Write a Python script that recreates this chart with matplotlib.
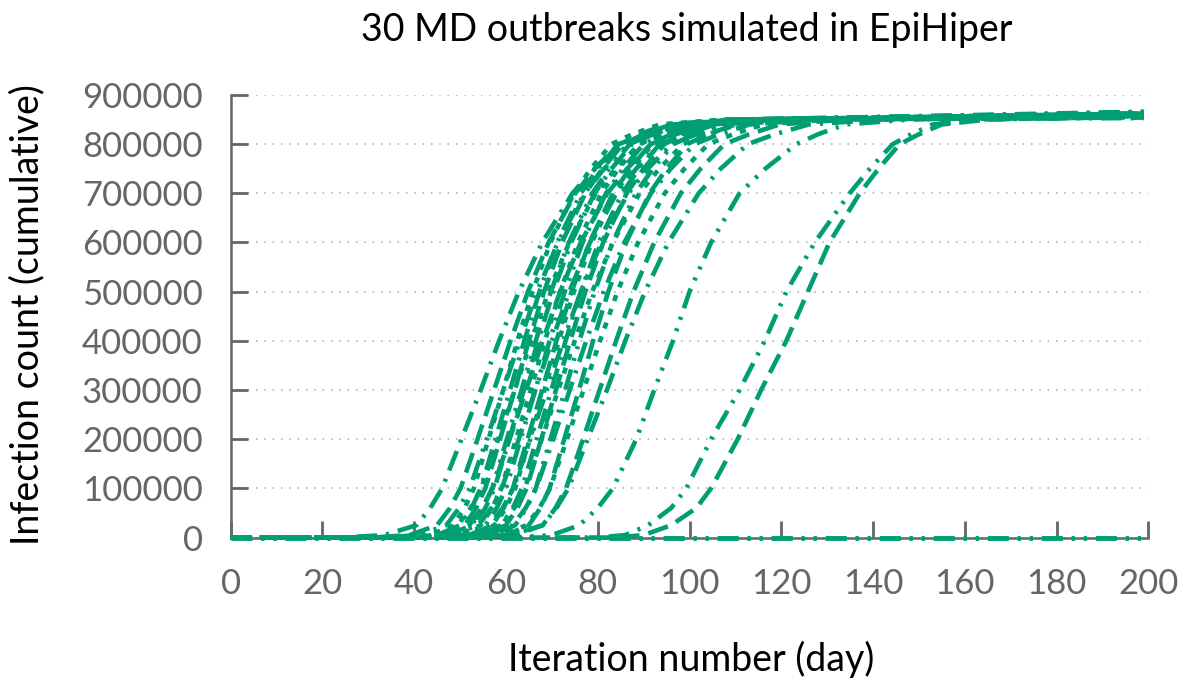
import matplotlib
matplotlib.use("Agg")
import matplotlib.pyplot as plt

plt.rcParams['font.family'] = ['Lato', 'DejaVu Sans']
plt.rcParams['lines.scale_dashes'] = False

# infection levels; each curve lists the day it reaches each level
LEVELS = [0, 5000, 25000, 60000, 100000, 200000, 300000, 400000,
          500000, 600000, 700000, 750000, 800000, 820000, 840000, 850000]
LAST_DAY = 199

CURVE_DAYS = [
    [24.5, 33.5, 40.5, 43.5, 46.1, 50.3, 54.5, 58.5, 62.8, 67.9, 74.5, 79.3, 85.2, 91.1, 98.5, 114.5],
    [31, 39, 45, 47.8, 50.1, 53.8, 57.4, 61, 64.8, 69.3, 75.1, 79.4, 84.6, 90, 96.6, 111],
    [36.5, 43.5, 48.5, 51, 53, 56.2, 59.4, 62.5, 65.8, 69.7, 74.8, 78.5, 83, 87.5, 93.5, 107.5],
    [33, 41, 47, 49.8, 52.1, 55.8, 59.4, 63, 66.8, 71.3, 77.1, 81.4, 86.6, 92, 98.6, 113],
    [38, 45, 50, 52.5, 54.5, 57.7, 60.9, 64, 67.3, 71.2, 76.3, 80, 84.5, 89, 95, 109],
    [39, 46, 51, 53.5, 55.5, 58.7, 61.9, 65, 68.3, 72.2, 77.3, 81, 85.5, 90, 96, 110],
    [35.5, 43.5, 49.5, 52.3, 54.6, 58.3, 61.9, 65.5, 69.3, 73.8, 79.6, 83.9, 89.1, 94.5, 101.1, 115.5],
    [40.5, 47.5, 52.5, 55, 57, 60.2, 63.4, 66.5, 69.8, 73.7, 78.8, 82.5, 87, 91.5, 97.5, 111.5],
    [41, 48, 53, 55.5, 57.5, 60.7, 63.9, 67, 70.3, 74.2, 79.3, 83, 87.5, 92, 98, 112],
    [38, 46, 52, 54.8, 57.1, 60.8, 64.4, 68, 71.8, 76.3, 82.1, 86.4, 91.6, 97, 103.6, 118],
    [42.5, 49.5, 54.5, 57, 59, 62.2, 65.4, 68.5, 71.8, 75.7, 80.8, 84.5, 89, 93.5, 99.5, 113.5],
    [43.5, 50.5, 55.5, 58, 60, 63.2, 66.4, 69.5, 72.8, 76.7, 81.8, 85.5, 90, 94.5, 100.5, 114.5],
    [40, 48, 54, 56.8, 59.1, 62.8, 66.4, 70, 73.8, 78.3, 84.1, 88.4, 93.6, 99, 105.6, 120],
    [45, 52, 57, 59.5, 61.5, 64.7, 67.9, 71, 74.3, 78.2, 83.3, 87, 91.5, 96, 102, 116],
    [45.5, 52.5, 57.5, 60, 62, 65.2, 68.4, 71.5, 74.8, 78.7, 83.8, 87.5, 92, 96.5, 102.5, 116.5],
    [42.5, 50.5, 56.5, 59.3, 61.6, 65.3, 68.9, 72.5, 76.3, 80.8, 86.6, 90.9, 96.1, 101.5, 108.1, 122.5],
    [47, 54, 59, 61.5, 63.5, 66.7, 69.9, 73, 76.3, 80.2, 85.3, 89, 93.5, 98, 104, 118],
    [48, 55, 60, 62.5, 64.5, 67.7, 70.9, 74, 77.3, 81.2, 86.3, 90, 94.5, 99, 105, 119],
    [45, 53, 59, 61.8, 64.1, 67.8, 71.4, 75, 78.8, 83.3, 89.1, 93.4, 98.6, 104, 110.6, 125],
    [50, 57, 62, 64.5, 66.5, 69.7, 72.9, 76, 79.3, 83.2, 88.3, 92, 96.5, 101, 107, 121],
    [47.5, 55.5, 61.5, 64.3, 66.6, 70.3, 73.9, 77.5, 81.3, 85.8, 91.6, 95.9, 101.1, 106.5, 113.1, 127.5],
    [53, 60, 65, 67.5, 69.5, 72.7, 75.9, 79, 82.3, 86.2, 91.3, 95, 99.5, 104, 110, 124],
    [50.5, 58.5, 64.5, 67.3, 69.6, 73.3, 76.9, 80.5, 84.3, 88.8, 94.6, 98.9, 104.1, 109.5, 116.1, 130.5],
    [54, 62, 68, 70.8, 73.1, 76.8, 80.4, 84, 87.8, 92.3, 98.1, 102.4, 107.6, 113, 119.6, 134],
    [52, 61, 68, 71, 73.6, 77.8, 82, 86, 90.3, 95.4, 102, 106.8, 112.7, 118.6, 126, 142],
    [62, 70, 76, 80, 83.3, 88.4, 92.3, 96.4, 100, 104.7, 110.9, 116.5, 123.3, 128, 134, 148],
    [80, 86, 91, 96, 99.3, 104.7, 110.9, 116.4, 121.1, 127.3, 134.9, 139.3, 144.3, 148.3, 153, 162],
    [84, 90, 96, 101.5, 104.7, 110.5, 115.6, 121.1, 125.8, 130.5, 137.1, 141.2, 145.8, 150, 155, 165],
]
PLATEAU = [858000, 862000, 855000, 860000, 864000, 857000, 861000, 853000,
           866000, 859000, 856000, 863000, 860000, 854000, 862000, 858000,
           865000, 857000, 861000, 855000, 863000, 859000, 856000, 860000,
           858000, 862000, 855000, 857000]
STYLES = ['dashdot', 'dash', 'dot', 'dashdotdot', 'dashdot', 'dash', 'dot',
          'dashdotdot', 'dashdot', 'dash', 'dot', 'dashdotdot', 'dashdot',
          'dash', 'dot', 'dashdotdot', 'dashdot', 'dash', 'dot', 'dashdotdot',
          'dashdot', 'dash', 'dot', 'dash', 'dashdot', 'dashdotdot',
          'dashdotdot', 'dash']
# outbreaks that never took off
ZERO_RUNS = 2

DASHES = {
    'dash': (0, (15, 6.5)),
    'dot': (0, (4.5, 6)),
    'dashdot': (0, (15, 6.5, 2.2, 6.5)),
    'dashdotdot': (0, (15, 6.5, 2.2, 6.5, 2.2, 6.5)),
}
GREEN = '#009e73'
GRAY = '#666666'

fig = plt.figure(figsize=(11.95, 6.83), dpi=100)
ax = fig.add_axes([0.193, 0.213, 0.768, 0.648])

for days, top, st in zip(CURVE_DAYS, PLATEAU, STYLES):
    xs = [0] + days + [LAST_DAY]
    ys = [0] + LEVELS + [top]
    ax.plot(xs, ys, color=GREEN, lw=3.3, linestyle=DASHES[st],
            dash_capstyle='butt', clip_on=False, zorder=3)

for i in range(ZERO_RUNS):
    ax.plot([0, LAST_DAY], [0, 0], color=GREEN, lw=3.3,
            linestyle=DASHES['dashdotdot'], dash_capstyle='butt',
            clip_on=False, zorder=3)

ax.set_xlim(0, 200)
ax.set_ylim(0, 900000)
ax.set_xticks(range(0, 201, 20))
ax.set_yticks(range(0, 900001, 100000))
ax.set_yticklabels([str(v) for v in range(0, 900001, 100000)])

ax.grid(axis='y', color='#aaaaaa', linestyle=(0, (1, 5)), lw=1.2)
ax.set_axisbelow(True)
for s in ['top', 'right']:
    ax.spines[s].set_visible(False)
for s in ['left', 'bottom']:
    ax.spines[s].set_color(GRAY)
    ax.spines[s].set_linewidth(1.8)

ax.tick_params(direction='in', length=12.5, width=2, color=GRAY,
               labelcolor=GRAY, labelsize=25)
ax.tick_params(axis='x', pad=22)
ax.tick_params(axis='y', pad=20)

fig.text(0.575, 0.956, '30 MD outbreaks simulated in EpiHiper',
         fontsize=27, ha='center', va='center')
fig.text(0.5787, 0.034, 'Iteration number (day)',
         fontsize=27, ha='center', va='center')
fig.text(0.023, 0.539, 'Infection count (cumulative)',
         fontsize=27, ha='center', va='center', rotation=90)

fig.savefig('out.png', dpi=100)
